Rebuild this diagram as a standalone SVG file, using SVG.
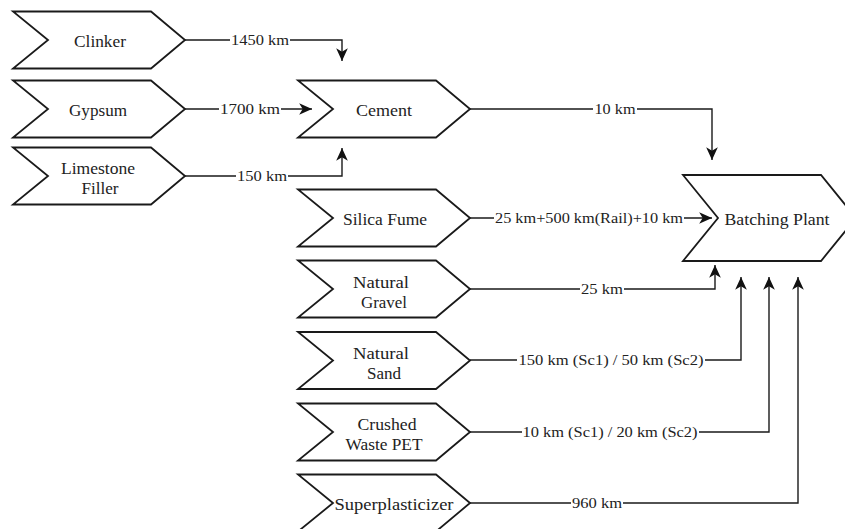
<svg xmlns="http://www.w3.org/2000/svg" width="845" height="529" viewBox="0 0 845 529">
<style>
.box{fill:#fff;stroke:#1a1a1a;stroke-width:1.8;stroke-linejoin:miter}
.nt{font-family:"Liberation Serif","Times New Roman",serif;font-size:16px;fill:#222;text-anchor:middle;dominant-baseline:central}
.edge{fill:none;stroke:#1a1a1a;stroke-width:1.4}
.bg{fill:#fff}
.lbl{font-family:"Liberation Serif","Times New Roman",serif;font-size:15px;fill:#222;text-anchor:middle;dominant-baseline:central}
</style>
<defs>
<polygon id="chev" points="0,-28.5 138,-28.5 172,0 138,28.5 0,28.5 35,0"/>
<marker id="arr" markerUnits="userSpaceOnUse" markerWidth="14" markerHeight="14" viewBox="0 0 12 12" refX="11" refY="6" orient="auto">
<path d="M0,1 L11,6 L0,11 L3,6 Z" fill="#111"/>
</marker>
</defs>
<g id="connectors">
<path class="edge" d="M185,40 H342 V61" marker-end="url(#arr)"/>
<path class="edge" d="M185,109 H312" marker-end="url(#arr)"/>
<path class="edge" d="M185,176 H342 V148" marker-end="url(#arr)"/>
<path class="edge" d="M470,109 H712 V160" marker-end="url(#arr)"/>
<path class="edge" d="M470,218 H712" marker-end="url(#arr)"/>
<path class="edge" d="M470,289 H715 V265" marker-end="url(#arr)"/>
<path class="edge" d="M470,360 H741 V277" marker-end="url(#arr)"/>
<path class="edge" d="M470,432 H769 V277" marker-end="url(#arr)"/>
<path class="edge" d="M470,503 H798 V277" marker-end="url(#arr)"/>
<rect class="bg" x="230" y="32" width="60" height="16"/>
<text class="lbl" x="260" y="40" textLength="58" lengthAdjust="spacingAndGlyphs">1450 km</text>
<rect class="bg" x="219" y="101" width="62" height="16"/>
<text class="lbl" x="250" y="109" textLength="60" lengthAdjust="spacingAndGlyphs">1700 km</text>
<rect class="bg" x="236" y="168" width="52" height="16"/>
<text class="lbl" x="262" y="176" textLength="50" lengthAdjust="spacingAndGlyphs">150 km</text>
<rect class="bg" x="593" y="101" width="44" height="16"/>
<text class="lbl" x="615" y="109" textLength="41" lengthAdjust="spacingAndGlyphs">10 km</text>
<rect class="bg" x="494" y="210" width="190" height="16"/>
<text class="lbl" x="589" y="218" textLength="188" lengthAdjust="spacingAndGlyphs">25 km+500 km(Rail)+10 km</text>
<rect class="bg" x="580" y="281" width="44" height="16"/>
<text class="lbl" x="602" y="289" textLength="42" lengthAdjust="spacingAndGlyphs">25 km</text>
<rect class="bg" x="517" y="352" width="188" height="16"/>
<text class="lbl" x="611" y="360" textLength="185" lengthAdjust="spacingAndGlyphs">150 km (Sc1) / 50 km (Sc2)</text>
<rect class="bg" x="522" y="424" width="177" height="16"/>
<text class="lbl" x="610" y="432" textLength="175" lengthAdjust="spacingAndGlyphs">10 km (Sc1) / 20 km (Sc2)</text>
<rect class="bg" x="571" y="495" width="52" height="16"/>
<text class="lbl" x="597" y="503" textLength="50" lengthAdjust="spacingAndGlyphs">960 km</text>
</g>
<g id="clinker"><use href="#chev" class="box" x="13" y="40"/><text class="nt" x="100" y="41" textLength="52" lengthAdjust="spacingAndGlyphs">Clinker</text></g>
<g id="gypsum"><use href="#chev" class="box" x="13" y="109"/><text class="nt" x="98" y="110" textLength="58" lengthAdjust="spacingAndGlyphs">Gypsum</text></g>
<g id="limestone"><use href="#chev" class="box" x="13" y="176"/><text class="nt" x="98" y="168" textLength="74" lengthAdjust="spacingAndGlyphs">Limestone</text><text class="nt" x="100" y="188" textLength="37" lengthAdjust="spacingAndGlyphs">Filler</text></g>
<g id="cement"><use href="#chev" class="box" x="298" y="109"/><text class="nt" x="384" y="110" textLength="56" lengthAdjust="spacingAndGlyphs">Cement</text></g>
<g id="silica"><use href="#chev" class="box" x="298" y="218"/><text class="nt" x="385" y="219" textLength="84" lengthAdjust="spacingAndGlyphs">Silica Fume</text></g>
<g id="gravel"><use href="#chev" class="box" x="298" y="289"/><text class="nt" x="381" y="282" textLength="56" lengthAdjust="spacingAndGlyphs">Natural</text><text class="nt" x="384" y="302" textLength="46" lengthAdjust="spacingAndGlyphs">Gravel</text></g>
<g id="sand"><use href="#chev" class="box" x="298" y="360.5"/><text class="nt" x="381" y="353" textLength="56" lengthAdjust="spacingAndGlyphs">Natural</text><text class="nt" x="384" y="373" textLength="34" lengthAdjust="spacingAndGlyphs">Sand</text></g>
<g id="pet"><use href="#chev" class="box" x="298" y="432"/><text class="nt" x="387" y="424" textLength="59" lengthAdjust="spacingAndGlyphs">Crushed</text><text class="nt" x="384" y="444" textLength="77" lengthAdjust="spacingAndGlyphs">Waste PET</text></g>
<g id="super"><use href="#chev" class="box" x="298" y="503"/><text class="nt" x="394" y="504" textLength="119" lengthAdjust="spacingAndGlyphs">Superplasticizer</text></g>
<g id="batching"><polygon class="box" points="683,175 821,175 856,218 821,261 683,261 718,218"/><text class="nt" x="777" y="219" textLength="105" lengthAdjust="spacingAndGlyphs">Batching Plant</text></g>
</svg>
